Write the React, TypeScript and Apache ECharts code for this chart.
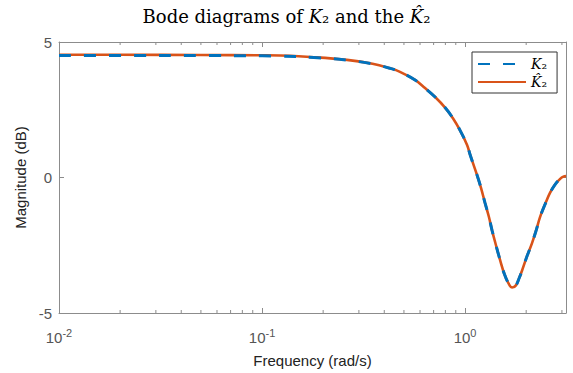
import React, { useEffect, useRef } from "react";
import * as echarts from "echarts";

// Frequencies (rad/s)
const freq = [
  0.01, 0.02, 0.05, 0.1, 0.1228, 0.18, 0.262, 0.35, 0.427, 0.478, 0.567,
  0.635, 0.712, 0.797, 0.873, 0.945, 1.023, 1.058, 1.095, 1.15, 1.199, 1.254,
  1.31, 1.358, 1.42, 1.487, 1.56, 1.64, 1.704, 1.78, 1.85, 1.909, 2.02, 2.137,
  2.24, 2.34, 2.48, 2.62, 2.78, 2.94, 3.05, 3.1416,
];
// Magnitude (dB) of K2
const magK2 = [
  4.5, 4.5, 4.5, 4.49, 4.48, 4.43, 4.33, 4.19, 4.03, 3.9, 3.6, 3.3, 2.97,
  2.58, 2.18, 1.74, 1.2, 0.85, 0.52, 0.05, -0.39, -0.94, -1.45, -1.95, -2.5,
  -3.04, -3.55, -3.92, -4.06, -3.98, -3.7, -3.43, -2.9, -2.42, -1.95, -1.46,
  -0.98, -0.57, -0.25, -0.05, 0.03, 0.05,
];
// Magnitude (dB) of K-hat 2
const magKhat2 = [
  4.53, 4.53, 4.52, 4.51, 4.5, 4.44, 4.34, 4.2, 4.03, 3.9, 3.6, 3.3, 2.97,
  2.58, 2.18, 1.74, 1.2, 0.85, 0.52, 0.05, -0.39, -0.94, -1.45, -1.95, -2.5,
  -3.04, -3.55, -3.92, -4.06, -3.98, -3.7, -3.43, -2.9, -2.42, -1.95, -1.46,
  -0.98, -0.57, -0.25, -0.05, 0.03, 0.05,
];
const xMin = 0.01;
const xMax = Math.PI;
const yTicks = [-5, 0, 5];
const minorTicks: number[] = [];
[0.01, 0.1, 1].forEach((d) => {
  [2, 3, 4, 5, 6, 7, 8, 9].forEach((k) => {
    const v = k * d;
    if (v <= xMax) minorTicks.push(v);
  });
});

const AXIS_COLOR = "#8c8c8c";
const TICK_LABEL = "#555555";
const NAME_COLOR = "#222222";
const SANS = "'Liberation Sans', Arial, Helvetica, sans-serif";
const SERIF = "'DejaVu Serif', 'Liberation Serif', serif";

export default function App() {
  const ref = useRef<HTMLDivElement>(null);
  useEffect(() => {
    if (!ref.current) return;
    const chart = echarts.init(ref.current, null, { renderer: "svg" });
    const logLabel = (v: number) => {
      const l = Math.log10(v);
      const r = Math.round(l);
      if (Math.abs(l - r) > 1e-6) return "";
      return "10{sup|" + r + "}";
    };
    const baseX = {
      type: "log",
      logBase: 10,
      min: xMin,
      max: xMax,
      axisLine: { show: true, onZero: false, lineStyle: { color: AXIS_COLOR, width: 1 } },
      axisTick: { show: true, inside: true, length: 5, lineStyle: { color: AXIS_COLOR } },
      splitLine: { show: false },
      minorTick: { show: false },
    };
    const baseY = {
      type: "value",
      min: yTicks[0],
      max: yTicks[yTicks.length - 1],
      interval: 5,
      axisLine: { show: true, onZero: false, lineStyle: { color: AXIS_COLOR, width: 1 } },
      axisTick: { show: true, inside: true, length: 5, lineStyle: { color: AXIS_COLOR } },
      splitLine: { show: false },
    };
    chart.setOption({
      animation: false,
      backgroundColor: "#ffffff",
      title: {
        text: "Bode diagrams of {i|K}₂ and the {i|K̂}₂",
        left: "center",
        top: 2,
        textStyle: {
          fontFamily: SERIF,
          fontSize: 18,
          fontWeight: "normal",
          color: "#000",
          rich: {
            i: { fontFamily: SERIF, fontSize: 18, fontStyle: "italic", color: "#000" },
          },
        },
      },
      grid: { left: 59, right: 7, top: 42, bottom: 60, containLabel: false },
      legend: {
        data: ["K2", "Khat2"],
        orient: "vertical",
        left: 472,
        top: 52,
        itemWidth: 48,
        itemHeight: 10,
        itemGap: 4,
        padding: [5, 10, 4, 5],
        borderColor: "#333333",
        borderWidth: 1,
        borderRadius: 0,
        backgroundColor: "#ffffff",
        itemStyle: { opacity: 0 },
        formatter: (name: string) => (name === "K2" ? "{i|K}₂" : "{i|K̂}₂"),
        textStyle: {
          fontFamily: SERIF,
          fontSize: 14,
          color: "#000",
          rich: {
            i: { fontFamily: SERIF, fontSize: 14, fontStyle: "italic", color: "#000" },
          },
        },
      },
      xAxis: [
        {
          ...baseX,
          position: "bottom",
          name: "Frequency (rad/s)",
          nameLocation: "middle",
          nameGap: 40,
          nameTextStyle: { fontFamily: SANS, fontSize: 15, color: NAME_COLOR },
          axisLabel: {
            show: true,
            margin: 14,
            formatter: logLabel,
            showMaxLabel: false,
            fontFamily: SANS,
            fontSize: 15,
            color: TICK_LABEL,
            rich: {
              sup: { fontFamily: SANS, fontSize: 11, color: TICK_LABEL, verticalAlign: "top", padding: [0, 0, 9, 0] },
            },
          },
        },
        {
          ...baseX,
          position: "top",
          axisLabel: { show: false },
        },
      ],
      yAxis: [
        {
          ...baseY,
          position: "left",
          name: "Magnitude (dB)",
          nameLocation: "middle",
          nameGap: 25,
          nameTextStyle: { fontFamily: SANS, fontSize: 15, color: NAME_COLOR },
          axisLabel: { show: true, margin: 7, fontFamily: SANS, fontSize: 15, color: TICK_LABEL },
        },
        {
          ...baseY,
          position: "right",
          axisLabel: { show: false },
        },
      ],
      series: [
        {
          name: "Khat2",
          type: "line",
          xAxisIndex: 0,
          yAxisIndex: 0,
          data: freq.map((f, i) => [f, magKhat2[i]]),
          symbol: "none",
          showSymbol: false,
          smooth: 0.4,
          lineStyle: { color: "#D95319", width: 2.6 },
          itemStyle: { color: "#D95319" },
          z: 2,
        },
        {
          name: "K2",
          type: "line",
          xAxisIndex: 0,
          yAxisIndex: 0,
          data: freq.map((f, i) => [f, magK2[i]]),
          symbol: "none",
          showSymbol: false,
          smooth: 0.4,
          lineStyle: { color: "#0072BD", width: 3, type: [12, 13] },
          itemStyle: { color: "#0072BD" },
          z: 3,
        },
        {
          name: "minorTicks",
          type: "custom",
          xAxisIndex: 0,
          yAxisIndex: 0,
          silent: true,
          data: minorTicks.map((v) => [v, 0]),
          renderItem: (params: any, api: any) => {
            const x = api.coord([api.value(0), 0])[0];
            const cs = params.coordSys;
            const bottom = cs.y + cs.height;
            return {
              type: "group",
              children: [
                { type: "line", shape: { x1: x, y1: bottom, x2: x, y2: bottom - 3 }, style: { stroke: AXIS_COLOR, lineWidth: 1 } },
                { type: "line", shape: { x1: x, y1: cs.y, x2: x, y2: cs.y + 3 }, style: { stroke: AXIS_COLOR, lineWidth: 1 } },
              ],
            };
          },
          z: 1,
        },
      ],
    });
    return () => chart.dispose();
  }, []);
  return <div ref={ref} style={{ width: 573, height: 373, position: "absolute", left: 0, top: 0 }} />;
}
